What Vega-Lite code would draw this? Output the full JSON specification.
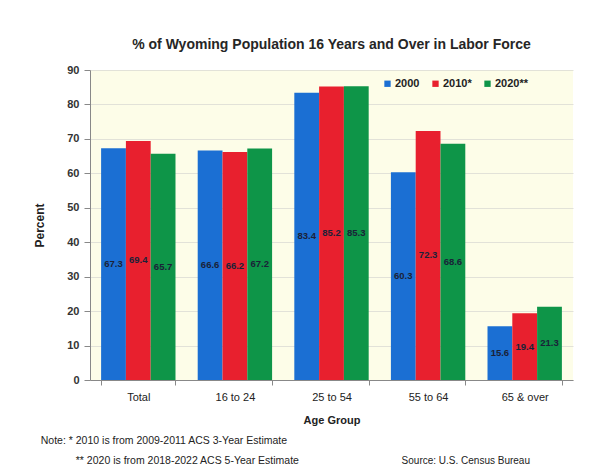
{
  "$schema": "https://vega.github.io/schema/vega-lite/v6.json",
  "background": "white",
  "padding": {"left": 33, "top": 38, "right": 18, "bottom": 5},
  "config": {"font": "Liberation Sans", "view": {"stroke": null}},
  "title": {"text": "Source: U.S. Census Bureau", "orient": "bottom", "anchor": "end", "frame": "group", "font": "Liberation Sans", "fontSize": 10, "fontWeight": "normal", "color": "#222", "dy": -11, "dx": -43, "offset": 0},
  "vconcat": [
    {
      "title": {"text": ["Note:  * 2010 is from 2009-2011 ACS 3-Year Estimate", "\u200b\u00a0\u00a0\u00a0\u00a0\u00a0\u00a0\u00a0\u00a0\u00a0\u00a0\u00a0\u00a0** 2020 is from 2018-2022 ACS 5-Year Estimate"], "orient": "bottom", "anchor": "start", "frame": "bounds", "font": "Liberation Sans", "fontSize": 10.5, "fontWeight": "normal", "color": "#222", "lineHeight": 20, "dx": 7, "offset": 11},
      "vconcat": [
        {
          "title": {"text": "% of Wyoming Population 16 Years and Over in Labor Force", "fontSize": 14, "fontWeight": "bold", "color": "#262626", "anchor": "middle", "offset": 12},
          "width": 483,
          "height": 310,
          "view": {"fill": "#fdfde8", "stroke": null},
          "data": {"values": [
            {"group": "Total", "year": "2000", "value": 67.3},
            {"group": "Total", "year": "2010*", "value": 69.4},
            {"group": "Total", "year": "2020**", "value": 65.7},
            {"group": "16 to 24", "year": "2000", "value": 66.6},
            {"group": "16 to 24", "year": "2010*", "value": 66.2},
            {"group": "16 to 24", "year": "2020**", "value": 67.2},
            {"group": "25 to 54", "year": "2000", "value": 83.4},
            {"group": "25 to 54", "year": "2010*", "value": 85.2},
            {"group": "25 to 54", "year": "2020**", "value": 85.3},
            {"group": "55 to 64", "year": "2000", "value": 60.3},
            {"group": "55 to 64", "year": "2010*", "value": 72.3},
            {"group": "55 to 64", "year": "2020**", "value": 68.6},
            {"group": "65 & over", "year": "2000", "value": 15.6},
            {"group": "65 & over", "year": "2010*", "value": 19.4},
            {"group": "65 & over", "year": "2020**", "value": 21.3}
          ]},
          "encoding": {
            "x": {"field": "group", "type": "nominal", "sort": ["Total", "16 to 24", "25 to 54", "55 to 64", "65 & over"],
              "scale": {"paddingInner": 0.23, "paddingOuter": 0.115},
              "axis": {"title": "Age Group", "labelAngle": 0, "tickBand": "extent", "labelFontSize": 11, "labelColor": "#222", "labelPadding": 6, "titleFontSize": 11, "titleFontWeight": "bold", "titleColor": "#222", "titlePadding": 12, "domainColor": "#888", "tickColor": "#888", "tickSize": 5}},
            "xOffset": {"field": "year", "type": "nominal", "sort": ["2000", "2010*", "2020**"], "scale": {"paddingInner": 0, "paddingOuter": 0}}
          },
          "layer": [
            {
              "mark": {"type": "bar"},
              "encoding": {
                "y": {"field": "value", "type": "quantitative", "scale": {"domain": [0, 90], "nice": false},
                  "axis": {"title": "Percent", "values": [0, 10, 20, 30, 40, 50, 60, 70, 80, 90], "labelFontSize": 11, "labelFontWeight": "bold", "labelColor": "#333", "labelPadding": 5, "titleFontSize": 12, "titleFontWeight": "bold", "titleColor": "#222", "titlePadding": 20, "domainColor": "#888", "tickColor": "#888", "tickSize": 6, "gridColor": "#e2e2d8", "gridWidth": 1}},
                "color": {"field": "year", "type": "nominal", "sort": ["2000", "2010*", "2020**"],
                  "scale": {"domain": ["2000", "2010*", "2020**"], "range": ["#1b6fd3", "#e8202e", "#0e9548"]},
                  "legend": {"title": null, "orient": "none", "legendX": 292, "legendY": 8, "direction": "horizontal", "symbolType": "square", "symbolSize": 40, "labelFontSize": 11, "labelFontWeight": "bold", "labelColor": "#222", "columnPadding": 10, "labelOffset": 2}}
              }
            },
            {
              "transform": [{"calculate": "datum.value / 2", "as": "mid"}],
              "mark": {"type": "text", "fontSize": 9.5, "fontWeight": "bold", "color": "#1a2238", "baseline": "middle"},
              "encoding": {
                "y": {"field": "mid", "type": "quantitative",
                  "axis": {"title": "Percent", "values": [0, 10, 20, 30, 40, 50, 60, 70, 80, 90], "labelFontSize": 11, "labelFontWeight": "bold", "labelColor": "#333", "labelPadding": 5, "titleFontSize": 12, "titleFontWeight": "bold", "titleColor": "#222", "titlePadding": 20, "domainColor": "#888", "tickColor": "#888", "tickSize": 6, "gridColor": "#e2e2d8", "gridWidth": 1}},
                "text": {"field": "value", "type": "quantitative", "format": ".1f"}
              }
            }
          ]
        }
      ]
    }
  ]
}
